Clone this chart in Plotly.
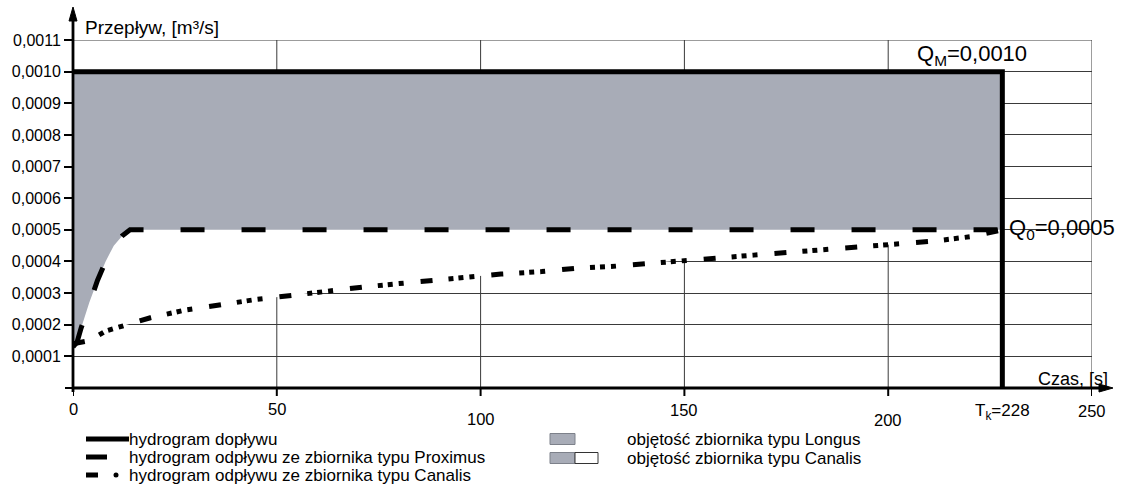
import plotly.graph_objects as go

# ---- hydrograph data: time [s], flow [m3/s] ----
inflow_t = [0, 228, 228]
inflow_q = [0.0010, 0.0010, 0.0]

proximus_t = [0, 1, 2, 3, 4, 6, 8, 10, 12, 14, 228]
proximus_q = [0.00013, 0.000145, 0.00019, 0.00023, 0.00027, 0.00034, 0.00040,
              0.00045, 0.00048, 0.00050, 0.00050]

canalis_t = [0, 4, 8, 13, 19, 27, 36, 45, 54, 62, 71, 80, 88, 97, 105, 115,
             123, 132, 141, 150, 158, 167, 176, 185, 193, 202, 211, 220, 228]
canalis_q = [0.00014, 0.00015, 0.00018, 0.00020, 0.000222, 0.000245, 0.000262,
             0.00028, 0.000293, 0.000306, 0.000319, 0.00033, 0.00034, 0.00035,
             0.00036, 0.000368, 0.000378, 0.000384, 0.000394, 0.000402,
             0.000413, 0.00042, 0.000429, 0.000437, 0.000446, 0.000453,
             0.000464, 0.000478, 0.0005]

t_end = 228
q_max = 0.0010
q_0 = 0.0005

y_tick_vals = [0.0001, 0.0002, 0.0003, 0.0004, 0.0005, 0.0006, 0.0007,
               0.0008, 0.0009, 0.0010, 0.0011]
y_tick_text = ["0,0001", "0,0002", "0,0003", "0,0004", "0,0005", "0,0006",
               "0,0007", "0,0008", "0,0009", "0,0010", "0,0011"]
x_tick_vals = [0, 50, 100, 150, 200, 250]
x_tick_text = ["0", "50", "100", "150", "200", "250"]

line_legend_labels = ["hydrogram dopływu",
                      "hydrogram odpływu ze zbiornika typu Proximus",
                      "hydrogram odpływu ze zbiornika typu Canalis"]
area_legend_labels = ["objętość zbiornika typu Longus",
                      "objętość zbiornika typu Canalis"]

# ---- styling ----
FONT = "Liberation Sans, Arial, sans-serif"
FILL_GRAY = "#a8acb7"
GRID = "#3a3a3a"
W, H = 1122, 498
L, R, T, B = 73, 30, 40, 110
PLOT_W = W - L - R
PLOT_H = H - T - B


def px(xp):
    """pixel x -> paper x"""
    return (xp - L) / PLOT_W


def py(yp):
    """pixel y -> paper y"""
    return (H - B - yp) / PLOT_H


def fmt(v):
    return f"{v:.4f}".replace(".", ",")


def pline(x0, y0, x1, y1, width, color="black"):
    return dict(type="line", xref="paper", yref="paper",
                x0=px(x0), y0=py(y0), x1=px(x1), y1=py(y1),
                line=dict(color=color, width=width))


def ppath(points, color="black"):
    d = "M " + " L ".join(f"{px(a)},{py(b)}" for a, b in points) + " Z"
    return dict(type="path", xref="paper", yref="paper", path=d,
                fillcolor=color, line=dict(color=color, width=1))


fig = go.Figure()

# area between inflow and Canalis outflow (white part of the Canalis volume)
top_t = [inflow_t[1], inflow_t[0]]
top_q = [inflow_q[1], inflow_q[0]]
fig.add_trace(go.Scatter(
    x=canalis_t + top_t, y=canalis_q + top_q, fill="toself",
    fillcolor="white", line=dict(width=0), mode="lines", hoverinfo="skip"))

# area between inflow and Proximus outflow (Longus volume)
fig.add_trace(go.Scatter(
    x=proximus_t + top_t, y=proximus_q + top_q, fill="toself",
    fillcolor=FILL_GRAY, line=dict(width=0), mode="lines", hoverinfo="skip"))

# outflow from the Canalis reservoir
fig.add_trace(go.Scatter(
    x=canalis_t, y=canalis_q, mode="lines",
    line=dict(color="black", width=5,
              dash="12px,16px,5px,5px,5px,6px,5px,17px")))

# outflow from the Proximus reservoir
fig.add_trace(go.Scatter(
    x=proximus_t, y=proximus_q, mode="lines",
    line=dict(color="black", width=5, dash="24px,37px")))

# inflow hydrograph
fig.add_trace(go.Scatter(
    x=inflow_t, y=inflow_q, mode="lines",
    line=dict(color="black", width=5)))

x0p, y0p = L, H - B          # origin in pixels
shapes = []
# vertical grid lines and time ticks
for v in x_tick_vals[1:]:
    shapes.append(dict(type="line", xref="x", yref="y", x0=v, x1=v,
                       y0=0, y1=y_tick_vals[-1],
                       line=dict(color=GRID, width=1), layer="below"))
for v in x_tick_vals:
    shapes.append(dict(type="line", xref="x", yref="paper", x0=v, x1=v,
                       y0=py(y0p), y1=py(y0p + 8),
                       line=dict(color="black", width=2)))
# top frame of the grid
shapes.append(dict(type="line", xref="x", yref="y", x0=0, x1=250,
                   y0=y_tick_vals[-1], y1=y_tick_vals[-1],
                   line=dict(color=GRID, width=1), layer="below"))

# axes with arrow heads
shapes.append(pline(x0p, y0p + 4, x0p, 18, 2.8))
shapes.append(ppath([(x0p, 7), (x0p - 4, 21), (x0p + 4, 21)]))
shapes.append(pline(x0p - 1, y0p, 1102, y0p, 2.8))
shapes.append(ppath([(1113, y0p), (1099, y0p - 4), (1099, y0p + 4)]))
# tick at the origin
shapes.append(pline(x0p - 8, y0p, x0p, y0p, 2))

# legend samples
rows_left = [439, 457, 475]
rows_right = [439, 458]
shapes.append(pline(86, rows_left[0], 129, rows_left[0], 5))
shapes.append(pline(86, rows_left[1], 107, rows_left[1], 5))
shapes.append(pline(86, rows_left[2], 98, rows_left[2], 5))
shapes.append(dict(type="circle", xref="paper", yref="paper",
                   x0=px(113.5), x1=px(118.5), y0=py(rows_left[2] + 2.5),
                   y1=py(rows_left[2] - 2.5), fillcolor="black",
                   line=dict(width=0)))
shapes.append(dict(type="rect", xref="paper", yref="paper",
                   x0=px(550), x1=px(575), y0=py(rows_right[0] + 5.5),
                   y1=py(rows_right[0] - 5.5), fillcolor=FILL_GRAY,
                   line=dict(color="#7d818a", width=1)))
shapes.append(dict(type="rect", xref="paper", yref="paper",
                   x0=px(550), x1=px(575), y0=py(rows_right[1] + 5.5),
                   y1=py(rows_right[1] - 5.5), fillcolor=FILL_GRAY,
                   line=dict(color="#7d818a", width=1)))
shapes.append(dict(type="rect", xref="paper", yref="paper",
                   x0=px(575), x1=px(598), y0=py(rows_right[1] + 5.5),
                   y1=py(rows_right[1] - 5.5), fillcolor="white",
                   line=dict(color="#333", width=1)))

annotations = []

# x tick labels (some printed a little lower)
x_label_y = [409, 409, 419, 410, 420, 411]
for v, txt, yy in zip(x_tick_vals, x_tick_text, x_label_y):
    annotations.append(dict(xref="x", yref="paper", x=v, y=py(yy), text=txt,
                            showarrow=False, xanchor="center", yanchor="middle",
                            font=dict(family=FONT, size=16.5, color="black")))
annotations.append(dict(xref="x", yref="paper", x=t_end, y=py(412),
                        text=f"T<sub>k</sub>={t_end}", showarrow=False,
                        xanchor="center", yanchor="middle",
                        font=dict(family=FONT, size=17, color="black")))

# axis titles
annotations.append(dict(xref="paper", yref="paper", x=px(83), y=py(27),
                        text="Przepływ, [m³/s]", showarrow=False,
                        xanchor="left", yanchor="middle",
                        font=dict(family=FONT, size=19, color="black")))
annotations.append(dict(xref="paper", yref="paper", x=px(1110), y=py(379),
                        text="Czas, [s]", showarrow=False,
                        xanchor="right", yanchor="middle",
                        font=dict(family=FONT, size=18, color="black")))

# characteristic flows
annotations.append(dict(xref="paper", yref="y", x=px(915), y=q_max,
                        yshift=17, text=f"Q<sub>M</sub>={fmt(q_max)}",
                        showarrow=False, xanchor="left", yanchor="middle",
                        font=dict(family=FONT, size=22, color="black")))
annotations.append(dict(xref="paper", yref="y", x=px(1007), y=q_0,
                        yshift=1, text=f"Q<sub>0</sub>={fmt(q_0)}",
                        showarrow=False, xanchor="left", yanchor="middle",
                        font=dict(family=FONT, size=22, color="black")))

# legend texts
for txt, yy in zip(line_legend_labels, rows_left):
    annotations.append(dict(xref="paper", yref="paper", x=px(128), y=py(yy),
                            text=txt, showarrow=False, xanchor="left",
                            yanchor="middle", borderpad=0,
                            font=dict(family=FONT, size=17, color="black")))
for txt, yy in zip(area_legend_labels, rows_right):
    annotations.append(dict(xref="paper", yref="paper", x=px(626), y=py(yy),
                            text=txt, showarrow=False, xanchor="left",
                            yanchor="middle", borderpad=0,
                            font=dict(family=FONT, size=17, color="black")))

fig.update_layout(
    width=W, height=H,
    margin=dict(l=L, r=R, t=T, b=B),
    paper_bgcolor="white", plot_bgcolor="white",
    showlegend=False,
    font=dict(family=FONT, size=15, color="black"),
    shapes=shapes, annotations=annotations,
    xaxis=dict(range=[0, 250], tickmode="array", tickvals=[],
               showticklabels=False, ticks="",
               showgrid=False, zeroline=False, showline=False,
               fixedrange=True),
    yaxis=dict(range=[0, 0.0011], tickvals=y_tick_vals, ticktext=y_tick_text,
               ticks="outside", ticklen=8, tickwidth=2, tickcolor="black",
               tickfont=dict(family=FONT, size=16, color="black"),
               showgrid=True, gridcolor=GRID, gridwidth=1,
               zeroline=False, showline=False, fixedrange=True),
)

fig.write_html("out.html")
